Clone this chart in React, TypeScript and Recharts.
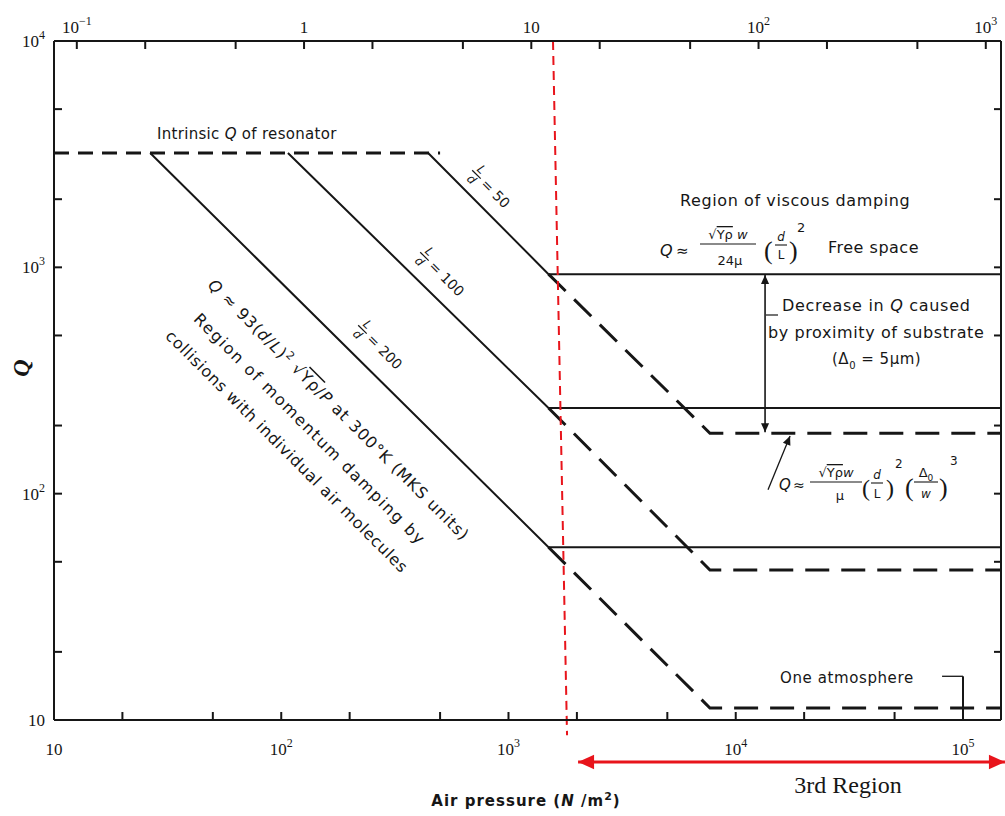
import React from "react";
import { LineChart, Line, XAxis, YAxis, ReferenceLine } from "recharts";

// tick positions (log axes)
const pressureTicks = [10, 20, 50, 100, 200, 500, 1000, 2000, 5000, 10000, 20000, 50000, 100000];
const torrTicks = [0.1, 0.2, 0.5, 1, 2, 5, 10, 20, 50, 100, 200, 500, 1000];
const qTicks = [10, 20, 50, 100, 200, 500, 1000, 2000, 5000, 10000];

const pressureDomain = [10, 147000];
const qDomain = [10, 10000];
const torrFactor = 126; // N/m^2 per top-axis unit

// intrinsic Q of resonator (dashed)
const intrinsicP = [10, 500];
const intrinsicQ = [3200, 3200];

// free-space curves (solid): L/d = 200, 100, 50
const ld200P = [26.5, 1500, 147000];
const ld200Q = [3200, 58, 58];
const ld100P = [107, 1500, 147000];
const ld100Q = [3200, 239, 239];
const ld50P = [443, 1500, 147000];
const ld50Q = [3200, 933, 933];

// near-substrate curves (dashed)
const sub50P = [1500, 7700, 147000];
const sub50Q = [933, 185, 185];
const sub100P = [1500, 7700, 147000];
const sub100Q = [239, 46, 46];
const sub200P = [1500, 7700, 147000];
const sub200Q = [58, 11.3, 11.3];

const toPoints = (p: number[], q: number[]) => p.map((x, i) => ({ p: x, q: q[i] }));

// the intrinsic line is drawn against the top (pressure / torrFactor) axis
const intrinsicData = toPoints(intrinsicP.map((p) => p / torrFactor), intrinsicQ);

const solidSeries = [
  { id: "ld200", data: toPoints(ld200P, ld200Q) },
  { id: "ld100", data: toPoints(ld100P, ld100Q) },
  { id: "ld50", data: toPoints(ld50P, ld50Q) },
];
const dashedSeries = [
  { id: "sub50", data: toPoints(sub50P, sub50Q) },
  { id: "sub100", data: toPoints(sub100P, sub100Q) },
  { id: "sub200", data: toPoints(sub200P, sub200Q) },
];

const INK = "#161616";
const SCAN_FONT = "'DejaVu Sans', sans-serif";
const NUM_FONT = "'Liberation Serif', serif";

const decadeLabel = (v: number): [string, string] | null => {
  const e = Math.round(Math.log10(v));
  if (Math.abs(Math.pow(10, e) - v) > v * 1e-6) return null;
  if (e === 0) return ["1", ""];
  if (e === 1) return ["10", ""];
  return ["10", e < 0 ? "\u2212" + Math.abs(e) : String(e)];
};

const makeTick = (side: "bottom" | "top" | "left" | "right") => (props: any) => {
  const { x, y, payload, textAnchor } = props;
  const lab = side === "right" ? null : decadeLabel(payload.value);
  if (!lab) return <g />;
  const dy = side === "bottom" ? 15 : side === "left" ? 6 : 0;
  return (
    <text x={x} y={y} dy={dy} textAnchor={textAnchor} fontFamily={NUM_FONT} fontSize={17} fill={INK}>
      {lab[0]}
      {lab[1] && (
        <tspan dy={-8} fontSize={12}>
          {lab[1]}
        </tspan>
      )}
    </text>
  );
};

const arrowShape = (color: string, width: number, head: number, both: boolean) => (props: any) => {
  const { x1, y1, x2, y2 } = props;
  const a = Math.atan2(y2 - y1, x2 - x1);
  const tip = (x: number, y: number, ang: number) => {
    const hw = head * 0.45;
    const bx = x - head * Math.cos(ang);
    const by = y - head * Math.sin(ang);
    return `${x},${y} ${bx - hw * Math.sin(ang)},${by + hw * Math.cos(ang)} ${bx + hw * Math.sin(ang)},${by - hw * Math.cos(ang)}`;
  };
  return (
    <g>
      <line x1={x1} y1={y1} x2={x2} y2={y2} stroke={color} strokeWidth={width} />
      <polygon points={tip(x2, y2, a)} fill={color} />
      {both && <polygon points={tip(x1, y1, a + Math.PI)} fill={color} />}
    </g>
  );
};

const Annotations = () => (
  <svg width={1005} height={816} style={{ position: "absolute", left: 0, top: 0, pointerEvents: "none" }}>
    <g fontFamily={SCAN_FONT} fill={INK}>
      {/* axis titles */}
      <text x={0} y={0} transform="translate(29,368) rotate(-90)" textAnchor="middle" fontFamily={NUM_FONT}
        fontStyle="italic" fontWeight="bold" fontSize={24}>Q</text>
      <text x={526} y={806} textAnchor="middle" fontWeight="bold" fontSize={15} letterSpacing={1}>
        Air pressure (<tspan fontStyle="italic">N</tspan> /m<tspan dy={-6} fontSize={11}>2</tspan><tspan dy={6}>)</tspan>
      </text>

      <text x={157} y={139} fontSize={15} letterSpacing={0.3}>
        Intrinsic <tspan fontStyle="italic">Q</tspan> of resonator
      </text>

      {/* L/d labels along the slopes */}
      {[
        { cx: 378, cy: 345, v: "200" },
        { cx: 440, cy: 272, v: "100" },
        { cx: 492, cy: 190, v: "50" },
      ].map((l) => (
        <g key={l.v} transform={`translate(${l.cx},${l.cy}) rotate(45)`}>
          <text x={-22} y={-3} fontSize={12} fontStyle="italic" textAnchor="middle">L</text>
          <line x1={-28} y1={0} x2={-16} y2={0} stroke={INK} strokeWidth={1.2} />
          <text x={-22} y={11} fontSize={12} fontStyle="italic" textAnchor="middle">d</text>
          <text x={-12} y={5} fontSize={14}>= {l.v}</text>
        </g>
      ))}

      {/* momentum damping block */}
      <g transform="translate(207,286) rotate(45)" fontSize={16}>
        <text x={0} y={0} letterSpacing={1}>
          <tspan fontStyle="italic">Q</tspan> ≈ 93(<tspan fontStyle="italic">d</tspan>/<tspan fontStyle="italic">L</tspan>)
          <tspan dy={-6} fontSize={11}>2</tspan>
          <tspan dy={6}> √</tspan><tspan textDecoration="overline">Yρ</tspan>/<tspan fontStyle="italic">P</tspan>
          <tspan>    at 300°K (MKS units)</tspan>
        </text>
        <text x={14} y={34} letterSpacing={1.6}>Region of momentum damping by</text>
        <text x={6} y={66} letterSpacing={0.7}>collisions with individual air molecules</text>
      </g>

      {/* viscous damping */}
      <text x={680} y={206} fontSize={16} letterSpacing={0.6}>Region of viscous damping</text>
      <text x={660} y={256} fontSize={16} fontStyle="italic">Q</text>
      <text x={676} y={256} fontSize={15}>≈</text>
      <text x={728} y={239} fontSize={13} textAnchor="middle">
        √<tspan textDecoration="overline">Yρ</tspan> <tspan fontStyle="italic">w</tspan>
      </text>
      <line x1={700} y1={244} x2={756} y2={244} stroke={INK} strokeWidth={1.2} />
      <text x={730} y={265} fontSize={13} textAnchor="middle">24μ</text>
      <text x={764} y={259} fontSize={26} fontFamily={NUM_FONT}>(</text>
      <text x={781} y={241} fontSize={12} fontStyle="italic" textAnchor="middle">d</text>
      <line x1={775} y1={245} x2={787} y2={245} stroke={INK} strokeWidth={1.1} />
      <text x={781} y={259} fontSize={12} textAnchor="middle">L</text>
      <text x={789} y={259} fontSize={26} fontFamily={NUM_FONT}>)</text>
      <text x={797} y={232} fontSize={13}>2</text>
      <text x={828} y={253} fontSize={16} letterSpacing={0.5}>Free space</text>

      <text x={782} y={311} fontSize={16} letterSpacing={0.7}>
        Decrease in <tspan fontStyle="italic">Q</tspan> caused
      </text>
      <text x={768} y={338} fontSize={16} letterSpacing={0.6}>by proximity of substrate</text>
      <text x={832} y={364} fontSize={15} letterSpacing={0.5}>
        (Δ<tspan dy={5} fontSize={10}>0</tspan><tspan dy={-5}> = 5μm)</tspan>
      </text>
      <line x1={766} y1={315} x2={778} y2={315} stroke={INK} strokeWidth={1.2} />

      {/* substrate formula */}
      <text x={779} y={490} fontSize={15} fontStyle="italic">Q</text>
      <text x={793} y={490} fontSize={14}>≈</text>
      <text x={836} y={477} fontSize={13} textAnchor="middle">
        √<tspan textDecoration="overline">Yρ</tspan><tspan fontStyle="italic">w</tspan>
      </text>
      <line x1={810} y1={482} x2={862} y2={482} stroke={INK} strokeWidth={1.2} />
      <text x={840} y={500} fontSize={13} textAnchor="middle">μ</text>
      <text x={862} y={496} fontSize={24} fontFamily={NUM_FONT}>(</text>
      <text x={877} y={479} fontSize={12} fontStyle="italic" textAnchor="middle">d</text>
      <line x1={871} y1={483} x2={883} y2={483} stroke={INK} strokeWidth={1.1} />
      <text x={877} y={498} fontSize={12} textAnchor="middle">L</text>
      <text x={886} y={496} fontSize={24} fontFamily={NUM_FONT}>)</text>
      <text x={895} y={468} fontSize={12}>2</text>
      <text x={905} y={496} fontSize={26} fontFamily={NUM_FONT}>(</text>
      <text x={926} y={477} fontSize={13} textAnchor="middle">
        Δ<tspan dy={4} fontSize={9}>0</tspan>
      </text>
      <line x1={914} y1={482} x2={938} y2={482} stroke={INK} strokeWidth={1.1} />
      <text x={926} y={498} fontSize={12} fontStyle="italic" textAnchor="middle">w</text>
      <text x={939} y={496} fontSize={26} fontFamily={NUM_FONT}>)</text>
      <text x={950} y={465} fontSize={12}>3</text>

      <text x={780} y={683} fontSize={15} letterSpacing={0.6}>One atmosphere</text>

      <text x={848} y={793} textAnchor="middle" fontFamily={NUM_FONT} fontSize={24}>3rd Region</text>
    </g>
  </svg>
);

export default function App() {
  return (
    <div style={{ position: "absolute", left: 0, top: 0, width: 1005, height: 816, background: "#fff" }}>
      <LineChart width={1005} height={816} margin={{ top: 0, right: 0, bottom: 56, left: 0 }}>
        <XAxis
          xAxisId="bottom"
          dataKey="p"
          type="number"
          scale="log"
          domain={pressureDomain}
          allowDataOverflow
          ticks={pressureTicks}
          interval={0}
          height={40}
          tickSize={-8}
          tickMargin={28}
          stroke={INK}
          strokeWidth={2}
          tick={makeTick("bottom")}
        />
        <XAxis
          xAxisId="top"
          dataKey="p"
          orientation="top"
          type="number"
          scale="log"
          domain={[pressureDomain[0] / torrFactor, pressureDomain[1] / torrFactor]}
          allowDataOverflow
          ticks={torrTicks}
          interval={0}
          height={41}
          tickSize={-8}
          tickMargin={16}
          stroke={INK}
          strokeWidth={2}
          tick={makeTick("top")}
        />
        <YAxis
          yAxisId="left"
          type="number"
          scale="log"
          domain={qDomain}
          allowDataOverflow
          ticks={qTicks}
          interval={0}
          width={54}
          tickSize={-8}
          tickMargin={17}
          stroke={INK}
          strokeWidth={2}
          tick={makeTick("left")}
        />
        <YAxis
          yAxisId="right"
          orientation="right"
          type="number"
          scale="log"
          domain={qDomain}
          allowDataOverflow
          ticks={qTicks}
          interval={0}
          width={4}
          tickSize={-7}
          stroke={INK}
          strokeWidth={2}
          tick={makeTick("right")}
        />

        <Line
          xAxisId="top"
          yAxisId="left"
          data={intrinsicData}
          dataKey="q"
          type="linear"
          stroke={INK}
          strokeWidth={3}
          strokeDasharray="15 9"
          dot={false}
          activeDot={false}
          isAnimationActive={false}
        />
        {solidSeries.map((s) => (
          <Line
            key={s.id}
            xAxisId="bottom"
            yAxisId="left"
            data={s.data}
            dataKey="q"
            type="linear"
            stroke={INK}
            strokeWidth={2}
            dot={false}
            activeDot={false}
            isAnimationActive={false}
          />
        ))}
        {dashedSeries.map((s) => (
          <Line
            key={s.id}
            xAxisId="bottom"
            yAxisId="left"
            data={s.data}
            dataKey="q"
            type="linear"
            stroke={INK}
            strokeWidth={3}
            strokeDasharray="24 12"
            dot={false}
            activeDot={false}
            isAnimationActive={false}
          />
        ))}

        {/* Decrease in Q arrow */}
        <ReferenceLine
          xAxisId="bottom"
          yAxisId="left"
          segment={[{ x: 13460, y: 925 }, { x: 13460, y: 187 }]}
          ifOverflow="visible"
          shape={arrowShape(INK, 1.6, 9, true)}
        />
        {/* pointer to substrate formula */}
        <ReferenceLine
          xAxisId="bottom"
          yAxisId="left"
          segment={[{ x: 13870, y: 104 }, { x: 17340, y: 180 }]}
          ifOverflow="visible"
          shape={arrowShape(INK, 1.3, 9, false)}
        />
        {/* one atmosphere marker */}
        <ReferenceLine
          xAxisId="bottom"
          yAxisId="left"
          segment={[{ x: 80900, y: 15.6 }, { x: 100000, y: 15.6 }]}
          ifOverflow="visible"
          stroke={INK}
          strokeWidth={1.3}
        />
        <ReferenceLine
          xAxisId="bottom"
          yAxisId="left"
          segment={[{ x: 100000, y: 15.6 }, { x: 100000, y: 10 }]}
          ifOverflow="visible"
          stroke={INK}
          strokeWidth={2}
        />
        {/* red boundary and 3rd region span */}
        <ReferenceLine
          xAxisId="bottom"
          yAxisId="left"
          segment={[{ x: 1570, y: 10000 }, { x: 1810, y: 8.57 }]}
          ifOverflow="visible"
          stroke="#e8141b"
          strokeWidth={2}
          strokeDasharray="9 6"
        />
        <ReferenceLine
          xAxisId="bottom"
          yAxisId="left"
          segment={[{ x: 2024, y: 6.52 }, { x: 153000, y: 6.52 }]}
          ifOverflow="visible"
          shape={arrowShape("#e8141b", 3, 16, true)}
        />
      </LineChart>
      <Annotations />
    </div>
  );
}
